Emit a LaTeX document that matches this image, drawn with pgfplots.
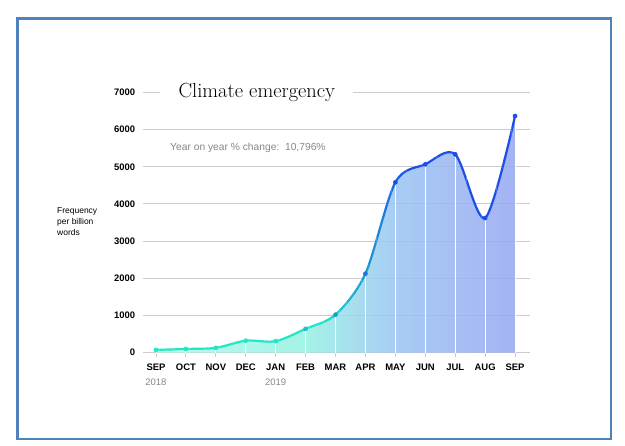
\documentclass[border=0pt]{standalone}
\usepackage{fontspec}
\newfontfamily\sans{Liberation Sans}
\usepackage{pgfplots}
\pgfplotsset{compat=1.18}
\usepackage{pgfplotstable}

\definecolor{lineA}{RGB}{32,232,196}
\definecolor{lineB}{RGB}{28,78,232}
\definecolor{gridc}{RGB}{204,204,204}
\definecolor{framec}{RGB}{79,129,189}
\definecolor{fA}{RGB}{175,249,235}
\definecolor{fB}{RGB}{150,241,228}
\definecolor{fC}{RGB}{153,196,243}
\definecolor{fD}{RGB}{150,166,243}
\definecolor{txtgray}{RGB}{135,135,135}

\pgfdeclarehorizontalshading{areashade}{100bp}{color(0bp)=(fA); color(25bp)=(fA); color(45.8bp)=(fB); color(58.3bp)=(fC); color(75bp)=(fD); color(100bp)=(fD)}

\pgfplotsforeachungrouped \i in {0,...,48}{%
  \pgfmathtruncatemacro\p{max(0,min(100,(\i/4-5.5)/3*100))}%
  \colorlet{band\i}{lineB!\p!lineA}%
}

\pgfplotstableread{
x y
0 70
1 95
2 125
3 318
4 305
5 638
6 1018
7 2123
8 4583
9 5067
10 5336
11 3621
12 6367
}\datatbl

\begin{document}
\begin{tikzpicture}
\useasboundingbox (-143bp,-93.5bp) rectangle (482bp,352.5bp);
\fill[white] (-143bp,-93.5bp) rectangle (482bp,352.5bp);
\draw[framec, line width=2.5bp] (-125.5bp,334bp) rectangle (468bp,-86.5bp);
\begin{axis}[
  scale only axis,
  width=387bp, height=260bp,
  xmin=-0.434, xmax=12.5,
  ymin=0, ymax=7000,
  axis line style={draw=none},
  ytick={0,1000,...,7000},
  xtick={0,...,12},
  xticklabels={SEP,OCT,NOV,DEC,JAN,FEB,MAR,APR,MAY,JUN,JUL,AUG,SEP},
  tick pos=left,
  ymajorgrids,
  grid style={gridc, line width=0.9bp},
  ytick style={draw=none},
  xtick style={draw=gridc, line width=0.9bp},
  xtick align=outside,
  major tick length=4bp,
  /pgf/number format/assume math mode=true,
  /pgf/number format/1000 sep={},
  ticklabel style={font=\sans\bfseries\fontsize{9.5}{11}\selectfont, text=black},
  yticklabel style={anchor=east, inner sep=0pt, xshift=-7.7bp},
  xticklabel style={anchor=center, inner sep=0pt, yshift=-10.5bp},
  colormap={lc}{rgb255=(32,232,196) rgb255=(32,232,196) rgb255=(28,78,232) rgb255=(28,78,232)},
  point meta min=0, point meta max=12,
  clip=false,
]
\addplot[draw=none, shading=areashade, fill opacity=0.85, smooth] table {\datatbl} \closedcycle;
\addplot[ycomb, white, line width=0.9bp, no marks] table {\datatbl};
\pgfplotsinvokeforeach{0,...,48}{
  \begin{scope}
  \clip (axis cs:#1/4-0.125,-2000) rectangle (axis cs:#1/4+0.125,9000);
  \addplot[band#1, line width=2.2bp, smooth, no marks] table {\datatbl};
  \end{scope}
}
\addplot[scatter, only marks, mark=*, mark size=2.1bp, point meta=x,
  scatter/use mapped color={draw=mapped color, fill=mapped color}] table {\datatbl};
\node[fill=white, minimum width=193bp, inner sep=0pt, minimum height=24bp, font=\fontsize{20.5}{24}\selectfont] at (axis cs:3.37,7000) {Climate emergency};
\node[anchor=west, inner sep=0pt, text=txtgray, font=\sans\fontsize{10.3}{12}\selectfont] at (axis cs:0.47,5500) {Year on year \% change:\ \ 10,796\%};
\node[inner sep=0pt, text=txtgray, font=\sans\fontsize{9.5}{11}\selectfont] at (axis cs:0,0) [yshift=-30.2bp] {2018};
\node[inner sep=0pt, text=txtgray, font=\sans\fontsize{9.5}{11}\selectfont] at (axis cs:4,0) [yshift=-30.2bp] {2019};
\end{axis}
\node[anchor=west, align=left, inner sep=0pt, font=\sans\fontsize{8.5}{11}\selectfont] at (-86bp,130.5bp) {Frequency\\per billion\\words};
\end{tikzpicture}
\end{document}
